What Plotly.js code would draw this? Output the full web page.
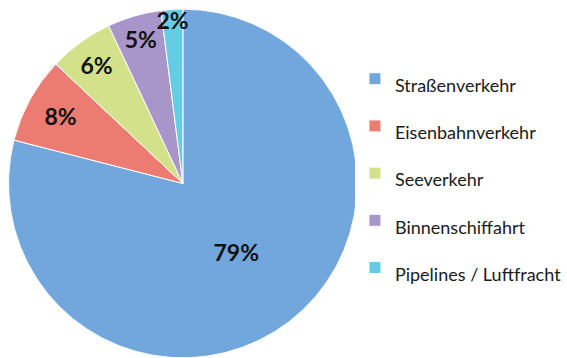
<!DOCTYPE html>
<html><head><meta charset="utf-8">
<script src="https://cdn.plot.ly/plotly-3.0.1.min.js"></script>
<style>html,body{margin:0;padding:0;background:#fff;}#chart{width:567px;height:358px;}</style>
</head><body><div id="chart"></div>
<script>
const categories = ['Straßenverkehr', 'Eisenbahnverkehr', 'Seeverkehr', 'Binnenschiffahrt', 'Pipelines / Luftfracht'];
const shares = [79, 8, 6, 5, 2];
const colors = ['#72a7dd', '#ec7b72', '#d3e28a', '#a895c9', '#66cbe4'];

const legendLabels = categories.map(c => '<span style="font-size:18px">' + c + '</span>');

const trace = {
  type: 'pie',
  values: shares,
  labels: legendLabels,
  sort: false,
  direction: 'clockwise',
  rotation: 0,
  marker: { colors: colors, line: { color: '#ffffff', width: 1 } },
  texttemplate: '%{percent:.0%}',
  textposition: 'inside',
  insidetextorientation: 'horizontal',
  textfont: { family: 'Lato, sans-serif', size: 23, color: '#111', weight: 'bold' },
  hoverinfo: 'label+percent',
  domain: { x: [0.015, 0.63], y: [0, 0.975] }
};

const layout = {
  width: 567, height: 358,
  margin: { l: 0, r: 0, t: 0, b: 0 },
  paper_bgcolor: '#ffffff',
  showlegend: true,
  uniformtext: { mode: 'show', minsize: 23 },
  legend: {
    x: 0.626, y: 0.86, xanchor: 'left', yanchor: 'top',
    font: { family: 'Lato, sans-serif', size: 34, color: '#1a1a1a' },
    traceorder: 'normal'
  }
};

Plotly.newPlot('chart', [trace], layout, { displayModeBar: false, staticPlot: true });
</script>
</body></html>
